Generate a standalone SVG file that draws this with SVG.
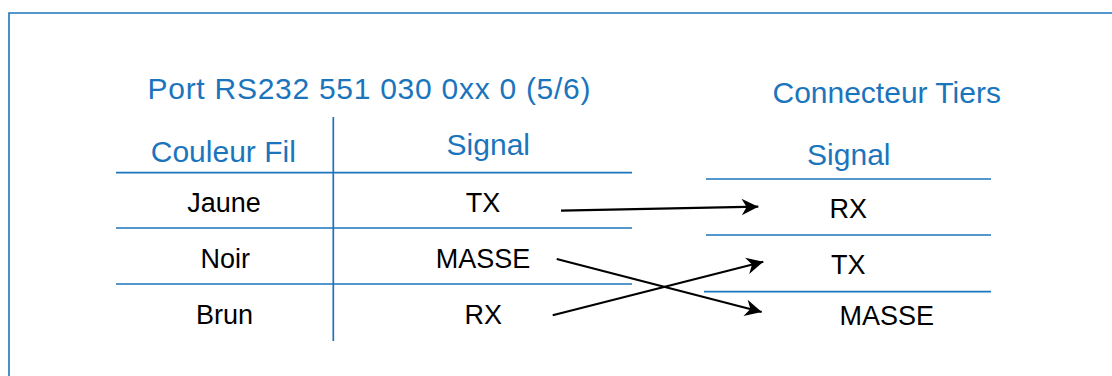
<svg xmlns="http://www.w3.org/2000/svg" width="1112" height="376" viewBox="0 0 1112 376">
<style>
.frame{fill:none;stroke:#1b75bc;stroke-width:1.6}
.grid{fill:none;stroke:#1b75bc;stroke-width:1.7}
.hdr{font-family:"Liberation Sans",Arial,sans-serif;font-size:30px;fill:#1b75bc;text-anchor:middle}
.cell{font-family:"Liberation Sans",Arial,sans-serif;font-size:27px;fill:#000;text-anchor:middle}
.conn{fill:none;stroke:#000;stroke-width:2.2;marker-end:url(#arr)}
</style>
<defs>
<marker id="arr" markerUnits="userSpaceOnUse" markerWidth="20" markerHeight="20" viewBox="-16 -8 18 16" refX="0" refY="0" orient="auto">
<path d="M0,0 L-15,-7.5 L-10.5,0 L-15,7.5 Z" fill="#000"/>
</marker>
</defs>
<rect width="1112" height="376" fill="#fff"/>
<path class="frame" d="M9,376 V13 H1112"/>
<g id="port-table">
<text class="hdr" x="147.5" y="98.5" style="text-anchor:start" textLength="443" lengthAdjust="spacing">Port RS232 551 030 0xx 0 (5/6)</text>
<line class="grid" x1="333.3" y1="117" x2="333.3" y2="341"/>
<line class="grid" x1="116" y1="172.7" x2="632" y2="172.7"/>
<line class="grid" x1="116" y1="228" x2="632" y2="228"/>
<line class="grid" x1="116" y1="284" x2="632" y2="284"/>
<text class="hdr" x="223.3" y="161.7">Couleur Fil</text>
<text class="hdr" x="488.3" y="155">Signal</text>
</g>
<g id="row-jaune">
<text class="cell" x="224" y="211.7">Jaune</text>
<text class="cell" x="483" y="211.7">TX</text>
</g>
<g id="row-noir">
<text class="cell" x="225.3" y="267.7">Noir</text>
<text class="cell" x="483" y="267.7">MASSE</text>
</g>
<g id="row-brun">
<text class="cell" x="224.5" y="323.5">Brun</text>
<text class="cell" x="483.2" y="324">RX</text>
</g>
<g id="tiers-table">
<text class="hdr" x="886.7" y="103.3">Connecteur Tiers</text>
<text class="hdr" x="848.8" y="165">Signal</text>
<line class="grid" x1="706" y1="179" x2="991" y2="179"/>
<line class="grid" x1="706" y1="235" x2="991" y2="235"/>
<line class="grid" x1="704" y1="291.7" x2="991" y2="291.7"/>
</g>
<g id="tiers-rx"><text class="cell" x="848.3" y="217.7">RX</text></g>
<g id="tiers-tx"><text class="cell" x="848.3" y="274.3">TX</text></g>
<g id="tiers-masse"><text class="cell" x="886.7" y="325.3">MASSE</text></g>
<g id="connectors">
<line class="conn" x1="561" y1="210.7" x2="758.3" y2="206.7"/>
<line class="conn" x1="556.7" y1="259" x2="761.7" y2="312"/>
<line class="conn" x1="552.7" y1="315.3" x2="763.3" y2="261.7"/>
</g>
</svg>
